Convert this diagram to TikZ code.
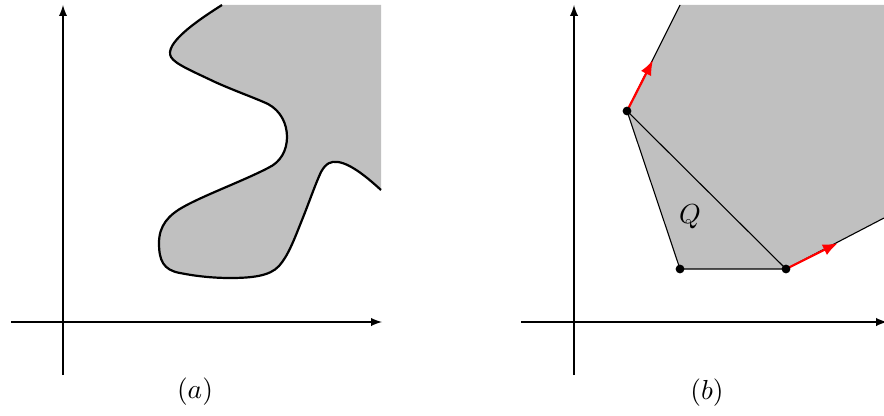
\documentclass[tikz,border=0pt]{standalone}
\usepackage{amsmath,amssymb}
\usepackage{xcolor}
\usepackage{tikz}
\usetikzlibrary{arrows.meta}

\definecolor{regiongray}{RGB}{192,192,192}

\begin{document}
\begin{tikzpicture}[x=0.3636pt, y=-0.3636pt, >=latex]
  \useasboundingbox (0,0) rectangle (884,415);

  % (a) axes and region
  \coordinate (ax1) at (11,322);   \coordinate (ax2) at (382,322);
  \coordinate (ay1) at (63,375);   \coordinate (ay2) at (63,5);
  \fill[regiongray] (222,5) .. controls (195,22) and (164,44) .. (171,57)
    .. controls (175,64) and (192,71) .. (215,82)
    .. controls (235,91) and (255,98) .. (268,104)
    .. controls (281,111) and (287,124) .. (287,137)
    .. controls (287,150) and (281,162) .. (268,168)
    .. controls (245,180) and (205,195) .. (185,206)
    .. controls (168,215) and (159,226) .. (159,243)
    .. controls (159,260) and (163,270) .. (180,273)
    .. controls (195,276) and (212,278) .. (230,278)
    .. controls (252,278) and (270,276) .. (279,266)
    .. controls (288,256) and (294,240) .. (302,220)
    .. controls (310,200) and (315,185) .. (321,172)
    .. controls (326,163) and (331,161) .. (338,162)
    .. controls (352,164) and (370,180) .. (381,190) -- (381,5) -- cycle;
  \draw[thick] (222,5) .. controls (195,22) and (164,44) .. (171,57)
    .. controls (175,64) and (192,71) .. (215,82)
    .. controls (235,91) and (255,98) .. (268,104)
    .. controls (281,111) and (287,124) .. (287,137)
    .. controls (287,150) and (281,162) .. (268,168)
    .. controls (245,180) and (205,195) .. (185,206)
    .. controls (168,215) and (159,226) .. (159,243)
    .. controls (159,260) and (163,270) .. (180,273)
    .. controls (195,276) and (212,278) .. (230,278)
    .. controls (252,278) and (270,276) .. (279,266)
    .. controls (288,256) and (294,240) .. (302,220)
    .. controls (310,200) and (315,185) .. (321,172)
    .. controls (326,163) and (331,161) .. (338,162)
    .. controls (352,164) and (370,180) .. (381,190);
  \draw[->] (ax1) -- (ax2);
  \draw[->] (ay1) -- (ay2);
  \node (lbla) at (195,392) {$(a)$};

  % (b) axes and polygon
  \coordinate (bx1) at (521,322);  \coordinate (bx2) at (887,322);
  \coordinate (by1) at (574,375);  \coordinate (by2) at (574,5);
  \coordinate (top) at (680,5);    \coordinate (right) at (884,218);
  \coordinate (p1) at (627,111);   \coordinate (p2) at (680,269);
  \coordinate (p3) at (786,269);
  \coordinate (e1) at (653,60);    \coordinate (e3) at (838,243);
  \fill[regiongray] (top) -- (p1) -- (p2) -- (p3) -- (right) -- (884,5) -- cycle;
  \draw (top) -- (p1) -- (p2) -- (p3) -- (right);
  \draw (p1) -- (p3);
  \draw[->] (bx1) -- (bx2);
  \draw[->] (by1) -- (by2);
  \draw[thick, red, -{Latex[length=5.5pt,width=4.2pt]}] (p1) -- (e1);
  \draw[thick, red, -{Latex[length=5.5pt,width=4.2pt]}] (p3) -- (e3);
  \foreach \v in {p1,p2,p3} \fill (\v) circle (1.6pt);
  \node (lblq) at (690,217) {$Q$};
  \node (lblb) at (707,393) {$(b)$};
\end{tikzpicture}
\end{document}
